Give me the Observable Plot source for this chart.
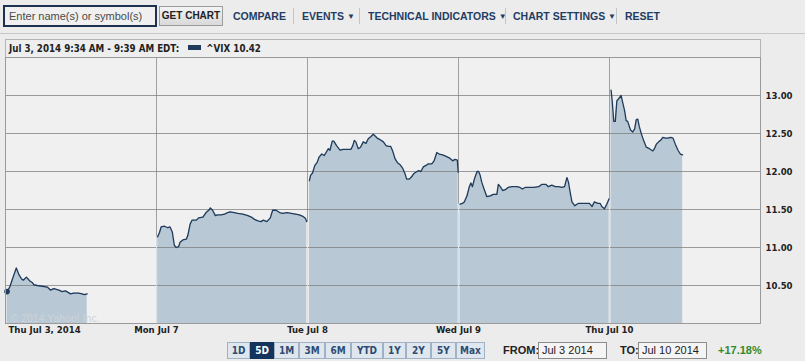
<!DOCTYPE html>
<html><head><meta charset="utf-8">
<script src="https://cdn.jsdelivr.net/npm/d3@7"></script>
<script src="https://cdn.jsdelivr.net/npm/@observablehq/plot@0.6"></script>
<style>
html,body{margin:0;padding:0}
body{background:#ececec;width:805px;height:361px;overflow:hidden;position:relative;font-family:"Liberation Sans",Arial,sans-serif}
.abs{position:absolute;box-sizing:border-box}
.lnk{position:absolute;top:10px;font-weight:bold;font-size:10.5px;color:#1f3d63;white-space:nowrap;line-height:12px}
.arr{font-size:8px;vertical-align:1px}
.sep{position:absolute;top:8px;width:1px;height:16px;background:#c4c4c4}
.btn{position:absolute;top:342px;height:17px;box-sizing:border-box;border:1px solid #9fb1c4;background:#dfe6ee;color:#2c4c72;font:bold 10px "DejaVu Sans Condensed","DejaVu Sans",sans-serif;text-align:center;line-height:15px}
.btn.sel{background:#13345c;color:#fff;border-color:#13345c}
.fld{position:absolute;top:342px;height:17px;box-sizing:border-box;border:1px solid #8c8c8c;background:#f4f4f4;font-size:11px;color:#222;padding-left:3px;line-height:15px}
.lab{position:absolute;top:344px;font-weight:bold;font-size:11px;color:#222}
#chart{position:absolute;left:0;top:57px}
</style></head><body>
<div class="abs" style="left:3px;top:5px;width:154px;height:22px;border:2px solid #1d3250;background:#f0f0f0;font-size:11px;color:#4a4a4a;padding:3px 0 0 4px">Enter name(s) or symbol(s)</div>
<div class="abs" style="left:159px;top:6px;width:64px;height:20px;border:1px solid #9c9c9c;background:linear-gradient(#f4f4f4,#d9d9d9);font-weight:bold;font-size:10px;color:#222;text-align:center;line-height:18px">GET CHART</div>
<div class="lnk" style="left:233px">COMPARE</div>
<div class="sep" style="left:293px"></div>
<div class="lnk" style="left:302px">EVENTS <span class="arr">&#9660;</span></div>
<div class="sep" style="left:359px"></div>
<div class="lnk" style="left:368px">TECHNICAL INDICATORS <span class="arr">&#9660;</span></div>
<div class="sep" style="left:505px"></div>
<div class="lnk" style="left:513px">CHART SETTINGS <span class="arr">&#9660;</span></div>
<div class="sep" style="left:616px"></div>
<div class="lnk" style="left:625px">RESET</div>
<div class="abs" style="left:0;top:33px;width:805px;height:1px;background:#c8c8c8"></div>
<div id="hdr" class="abs" style="left:5px;top:39px;width:756px;height:19px;border:1px solid #b4b4b4;background:#eeeeee;font:bold 9.7px 'DejaVu Sans Condensed','DejaVu Sans',sans-serif;color:#222;padding:3px 0 0 3px;white-space:nowrap"></div>
<div id="chart"></div>
<div id="ranges"></div>
<div class="lab" style="left:503px">FROM:</div>
<div class="fld" style="left:538px;width:69px">Jul 3 2014</div>
<div class="lab" style="left:620px">TO:</div>
<div class="fld" style="left:638px;width:69px">Jul 10 2014</div>
<div class="lab" style="left:718px;color:#2f8a2f">+17.18%</div>
<script>
// ---- data ----
const dayLabels = ["Thu Jul 3, 2014", "Mon Jul 7", "Tue Jul 8", "Wed Jul 9", "Thu Jul 10"];
const yTicks = [10.5, 11, 11.5, 12, 12.5, 13];
const rangeButtons = ["1D", "5D", "1M", "3M", "6M", "YTD", "1Y", "2Y", "5Y", "Max"];
const selectedRange = "5D";
const symbol = "^VIX";
const headerRange = "Jul 3, 2014 9:34 AM - 9:39 AM EDT:";
const copyright = "\u00a9 2014 Yahoo! Inc.";

// minutes after 9:30 open, VIX values
const jul3Minutes = [4,11,17,21,28,34,41,46,54,63,69,73,82,95,108,116,125,138,146,155,168,176,189,198,204,211];
const jul3Values = [10.42,10.48,10.57,10.63,10.73,10.65,10.59,10.57,10.61,10.56,10.54,10.51,10.50,10.49,10.48,10.44,10.46,10.44,10.42,10.43,10.39,10.40,10.40,10.39,10.38,10.39];

const jul7Minutes = [3,8,12,21,29,35,41,46,51,57,61,68,77,81,87,92,103,109,120,128,135,139,145,152,158,167,176,184,190,201,210,223,236,245,253,262,270,276,285,294,300,309,318,326,337,348,359,369,378,385,388];
const jul7Values = [11.14,11.20,11.27,11.28,11.26,11.27,11.20,11.03,11.00,11.01,11.07,11.10,11.11,11.16,11.31,11.36,11.36,11.39,11.40,11.46,11.49,11.52,11.49,11.42,11.43,11.43,11.44,11.46,11.47,11.46,11.45,11.44,11.42,11.40,11.37,11.35,11.34,11.36,11.34,11.39,11.49,11.49,11.46,11.45,11.46,11.45,11.44,11.43,11.41,11.38,11.34];

const jul8Minutes = [5,8,13,19,25,30,37,43,48,54,58,64,68,75,84,92,103,112,117,121,125,131,137,144,151,157,164,170,174,180,187,196,203,209,215,220,226,232,239,246,252,256,263,269,274,280,286,293,299,306,312,321,327,334,340,349,358,366,375,381,387,389];
const jul8Values = [11.88,11.95,11.98,12.08,12.12,12.19,12.23,12.21,12.25,12.30,12.28,12.40,12.40,12.34,12.28,12.29,12.29,12.29,12.34,12.41,12.39,12.30,12.32,12.39,12.37,12.43,12.46,12.49,12.47,12.44,12.42,12.39,12.34,12.33,12.33,12.27,12.17,12.12,12.09,12.04,11.97,11.90,11.90,11.93,11.97,11.99,12.01,12.00,12.06,12.08,12.10,12.10,12.14,12.25,12.23,12.22,12.20,12.18,12.14,12.16,12.15,11.99];

const jul9Minutes = [4,10,15,22,28,32,36,41,48,52,56,60,66,73,82,90,99,103,108,114,121,128,138,151,159,165,172,181,194,207,215,226,232,241,250,258,267,274,280,284,289,293,300,309,317,326,332,338,345,351,360,366,370,377,383,389];
const jul9Values = [11.57,11.58,11.60,11.68,11.80,11.85,11.80,11.90,12.00,12.00,11.95,11.86,11.77,11.67,11.68,11.70,11.70,11.83,11.80,11.75,11.76,11.79,11.80,11.80,11.79,11.77,11.79,11.79,11.79,11.80,11.83,11.83,11.80,11.82,11.80,11.80,11.79,11.80,11.92,11.86,11.71,11.60,11.55,11.58,11.58,11.58,11.58,11.58,11.54,11.60,11.58,11.58,11.54,11.51,11.57,11.64];

const jul10Minutes = [4,7,11,15,19,24,30,34,39,43,47,54,60,65,69,73,77,82,88,95,103,112,116,121,127,132,138,144,151,158,164,170,177,183,189];
const jul10Values = [13.07,12.93,12.66,12.66,12.93,12.96,13.00,12.91,12.80,12.67,12.66,12.55,12.52,12.56,12.68,12.69,12.59,12.50,12.41,12.32,12.30,12.27,12.30,12.36,12.39,12.41,12.45,12.44,12.44,12.45,12.44,12.36,12.28,12.23,12.22];

const changeLabel = "+17.18%";

// ---- build ----
const DAY = 390; // minutes in a session
const dayMinutes = [jul3Minutes, jul7Minutes, jul8Minutes, jul9Minutes, jul10Minutes];
const dayValues = [jul3Values, jul7Values, jul8Values, jul9Values, jul10Values];
const data = dayMinutes.flatMap((mins, i) => mins.map((m, j) => ({day: i, t: i * DAY + m, v: dayValues[i][j]})));
const boundaries = [1, 2, 3, 4].map(i => i * DAY);
const boundaryTops = [1, 2, 3, 4].map(i => {
  const first = dayValues[i][0];
  const prevM = dayMinutes[i - 1], prevV = dayValues[i - 1];
  const last = prevM[prevM.length - 1] > DAY - 10 ? prevV[prevV.length - 1] : Infinity;
  return {t: i * DAY, v: Math.min(first, last)};
});

document.getElementById("hdr").innerHTML =
  headerRange + ' <span style="display:inline-block;width:13px;height:5px;background:#1f3a5a;vertical-align:2px;margin:0 2px 0 6px"></span> ' + symbol + " " + jul3Values[0].toFixed(2);

const bx = [227, 250, 274, 299, 325, 351, 383, 406, 431, 456];
const bw = [23, 24, 25, 26, 26, 32, 23, 25, 25, 29];
document.getElementById("ranges").innerHTML = rangeButtons.map((b, i) =>
  `<div class="btn${b === selectedRange ? " sel" : ""}" style="left:${bx[i]}px;width:${bw[i]}px">${b}</div>`).join("");

const font = "'DejaVu Sans Condensed','DejaVu Sans',sans-serif";
const chart = Plot.plot({
  width: 805, height: 290,
  marginLeft: 5, marginRight: 45, marginTop: 0, marginBottom: 24,
  style: {background: "transparent", fontFamily: font, overflow: "visible"},
  x: {domain: [0, 5 * DAY], axis: null},
  y: {domain: [10, 13.5], axis: null},
  marks: [
    Plot.frame({fill: "#f0f0f0"}),
    Plot.ruleX(boundaries, {stroke: "#a0a0a0"}),
    Plot.areaY(data, {x: "t", y1: 10, y2: "v", z: "day", fill: "#b8c8d5"}),
    Plot.ruleY(yTicks, {stroke: "#7a7a7a", strokeOpacity: 0.72}),
    Plot.ruleX(boundaryTops, {x: "t", y1: 10, y2: "v", stroke: "#d9e1e8", strokeWidth: 1}),
    Plot.lineY(data, {x: "t", y: "v", z: "day", stroke: "#1f3a5a", strokeWidth: 1.3}),
    Plot.dot([data[0]], {x: "t", y: "v", r: 2.8, fill: "#1f3a5a"}),
    Plot.text([copyright], {frameAnchor: "bottom-left", dx: 5, dy: -2, lineAnchor: "bottom", textAnchor: "start", fill: "#cdd4da", fontSize: 10.5, fontFamily: "Liberation Sans"}),
    Plot.frame({stroke: "#9a9a9a"}),
    Plot.axisY(yTicks, {anchor: "right", tickSize: 0, tickPadding: 5, tickFormat: d => d.toFixed(2), fontWeight: "bold", fontSize: 9.5, fill: "#222", label: null}),
    Plot.axisX(boundaries, {anchor: "bottom", tickSize: 0, tickPadding: 3, tickFormat: d => dayLabels[Math.round(d / DAY)], fontWeight: "bold", fontSize: 9.5, fill: "#222", label: null}),
    Plot.text([{t: 0, label: dayLabels[0]}], {x: "t", text: "label", frameAnchor: "bottom", dy: 3, dx: 3, lineAnchor: "top", textAnchor: "start", fontWeight: "bold", fontSize: 9.5, fill: "#222"})
  ]
});
document.getElementById("chart").appendChild(chart);
</script>
</body></html>
